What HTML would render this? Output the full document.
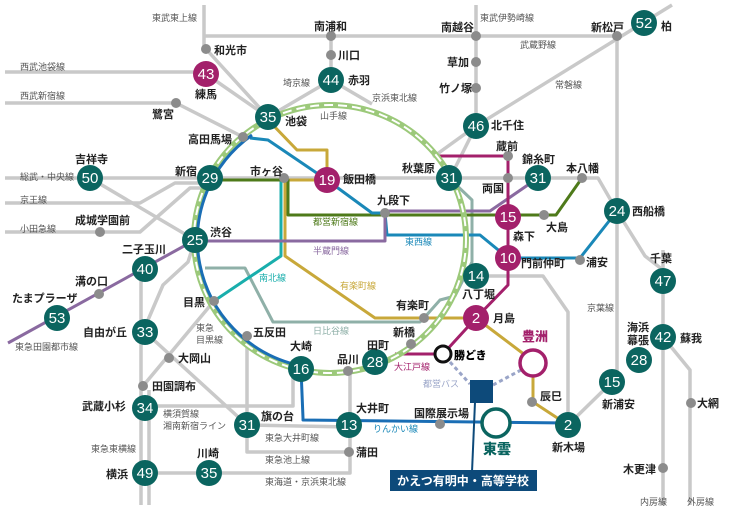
<!DOCTYPE html>
<html><head><meta charset="utf-8"><style>
html,body{margin:0;padding:0;background:#fff;}
svg{display:block;font-family:"Liberation Sans","Noto Sans CJK JP",sans-serif;}
.s{font-size:11px;font-weight:600;fill:#222;}
.l{font-size:9px;fill:#555;}
.n{font-size:15px;fill:#fff;font-family:"Liberation Sans Narrow","Liberation Sans",sans-serif;text-anchor:middle;}
.g{fill:#8c8c8c;}
.t{fill:#0b6560;}
.m{fill:#a3206b;}
</style></head><body>
<svg width="730" height="513" viewBox="0 0 730 513" xmlns="http://www.w3.org/2000/svg">
<!-- grey lines -->
<g fill="none" stroke="#c9c9c9" stroke-width="3.5" stroke-linejoin="round">
<polyline points="204,5 204,49"/>
<polyline points="204,36 617,36"/>
<polyline points="476,126 672,5"/>
<polyline points="617,36 617,382"/>
<polyline points="476,5 476,126"/>
<polyline points="331,36 331,80 268,117"/>
<polyline points="331,80 372,104"/>
<polyline points="476,126 433,157"/>
<polyline points="476,126 455,168"/>
<polyline points="5,178 598,178 617,211 645,256 663,270"/>
<polyline points="663,250 663,505"/>
<polyline points="663,337 690,370 690,505"/>
<polyline points="5,72 206,72"/>
<polyline points="206,49 268,117"/>
<polyline points="206,74 268,117"/>
<polyline points="5,103 176,103 243,137"/>
<polyline points="5,203 140,203 175,183 207,183"/>
<polyline points="5,232 140,232 190,188 207,188"/>
<polyline points="90,178 195,240"/>
<polyline points="141,269 141,505"/>
<polyline points="149,390 149,505"/>
<polyline points="195,240 188,262 163,285 148,320"/>
<polyline points="214,301 143,386"/>
<polyline points="145,332 247,425 349,427"/>
<polyline points="247,336 247,452 349,452"/>
<polyline points="145,473 350,473 350,371"/>
<polyline points="145,406 293,406 293,370"/>
<polyline points="476,276 543,276 568,312 568,425 612,382"/>
</g>
<!-- colored lines -->
<g fill="none" stroke-width="3" stroke-linejoin="round">
<polyline stroke="#8fb0a8" points="449,178 472,200 472,262 455,296 440,300 424,318 420,322 273,322 245,268 205,268"/>
<polyline stroke="#19aeac" points="214,301 281,256 281,180"/>
<polyline stroke="#c8a83a" points="270,122 297,150 327,150 327,180 285,180 285,256 375,318 476,318 525,355"/>
<polyline stroke="#c8a83a" points="533,376 533,402 568,425"/>
<polyline stroke="#4e7a1a" points="210,180 288,180 288,215 544,215 556,215 582,178"/>
<polyline stroke="#1a88b8" points="250,138 268,140 327,180 372,213 385,213 387,235 480,235 508,258 580,258 617,211"/>
<polyline stroke="#8a6aa0" points="195,241 385,241 385,211 490,211 538,178"/>
<polyline stroke="#8a6aa0" points="8,343 195,240"/>
<polyline stroke="#a3206b" points="437,156 508,156 508,285 476,318 443,354 395,354"/>
<polyline stroke="#1a6eb5" points="301,369 303,418 303,420 568,423"/>
</g>
<!-- yamanote -->
<ellipse cx="330" cy="239" rx="136" ry="134" fill="none" stroke="#9cc97a" stroke-width="6"/>
<ellipse cx="330" cy="239" rx="136" ry="134" fill="none" stroke="#fff" stroke-width="2" stroke-dasharray="9 5"/>
<path d="M252,135 A131,129 0 0 0 297,365" fill="none" stroke="#1a6eb5" stroke-width="3"/>
<!-- bus -->
<g stroke="#9aa5c8" stroke-width="3" stroke-dasharray="4 3" fill="none">
<line x1="450" y1="362" x2="470" y2="384"/><line x1="493" y1="385" x2="521" y2="370"/></g>
<line x1="475" y1="402" x2="472" y2="472" stroke="#0d4a7a" stroke-width="2"/>
<rect x="470" y="380" width="23" height="23" fill="#0d4a7a"/>
<rect x="390" y="470" width="147" height="21" fill="#0d4a7a"/>
<text x="463" y="485" text-anchor="middle" style="font-size:12px;font-weight:700;fill:#fff">かえつ有明中・高等学校</text>
<!-- grey nodes -->
<g class="g">
<circle cx="206" cy="49" r="5"/><circle cx="176" cy="103" r="5"/><circle cx="243" cy="137" r="5"/>
<circle cx="331" cy="36" r="5"/><circle cx="331" cy="55" r="5"/><circle cx="476" cy="36" r="5"/>
<circle cx="476" cy="62" r="5"/><circle cx="476" cy="88" r="5"/><circle cx="617" cy="36" r="5"/>
<circle cx="508" cy="156" r="5"/><circle cx="508" cy="178" r="5"/><circle cx="582" cy="178" r="5"/>
<circle cx="544" cy="215" r="5"/><circle cx="284" cy="178" r="5"/><circle cx="385" cy="213" r="5"/>
<circle cx="100" cy="232" r="5"/><circle cx="99" cy="294" r="5"/><circle cx="214" cy="301" r="5"/>
<circle cx="247" cy="336" r="5"/><circle cx="169" cy="358" r="5"/><circle cx="143" cy="386" r="5"/>
<circle cx="348" cy="371" r="5"/><circle cx="349" cy="452" r="5"/><circle cx="411" cy="344" r="5"/>
<circle cx="424" cy="318" r="5"/><circle cx="580" cy="260" r="5"/><circle cx="532" cy="402" r="5"/>
<circle cx="440" cy="424" r="5"/><circle cx="691" cy="403" r="5"/><circle cx="663" cy="468" r="5"/>
</g>
<!-- rings -->
<circle cx="443" cy="354" r="8" fill="#fff" stroke="#111" stroke-width="3"/>
<circle cx="533" cy="363" r="13" fill="#fff" stroke="#a3206b" stroke-width="3.5"/>
<circle cx="496" cy="423" r="14" fill="#fff" stroke="#0b6560" stroke-width="3.5"/>
<!-- teal nodes -->
<g class="t">
<circle cx="331" cy="80" r="13"/><circle cx="268" cy="117" r="13"/><circle cx="210" cy="178" r="13"/>
<circle cx="90" cy="178" r="13"/><circle cx="195" cy="240" r="13"/><circle cx="145" cy="269" r="13"/>
<circle cx="57" cy="318" r="13"/><circle cx="145" cy="332" r="13"/><circle cx="145" cy="408" r="13"/>
<circle cx="145" cy="473" r="13"/><circle cx="209" cy="473" r="13"/><circle cx="247" cy="425" r="13"/>
<circle cx="301" cy="369" r="13"/><circle cx="349" cy="425" r="13"/><circle cx="375" cy="362" r="13"/>
<circle cx="449" cy="178" r="13"/><circle cx="538" cy="178" r="13"/><circle cx="476" cy="126" r="13"/>
<circle cx="644" cy="23" r="13"/><circle cx="617" cy="211" r="13"/><circle cx="476" cy="276" r="13"/>
<circle cx="663" cy="281" r="13"/><circle cx="663" cy="337" r="13"/><circle cx="639" cy="360" r="13"/>
<circle cx="612" cy="382" r="13"/><circle cx="568" cy="425" r="13"/>
</g>
<g class="m">
<circle cx="206" cy="74" r="13"/><circle cx="327" cy="180" r="13"/><circle cx="508" cy="217" r="13"/>
<circle cx="508" cy="258" r="13"/><circle cx="476" cy="318" r="13"/>
</g>
<g class="n">
<text x="331" y="85">44</text><text x="268" y="122">35</text><text x="210" y="183">29</text>
<text x="90" y="183">50</text><text x="195" y="245">25</text><text x="145" y="274">40</text>
<text x="57" y="323">53</text><text x="145" y="337">33</text><text x="145" y="413">34</text>
<text x="145" y="478">49</text><text x="209" y="478">35</text><text x="247" y="430">31</text>
<text x="301" y="374">16</text><text x="349" y="430">13</text><text x="375" y="367">28</text>
<text x="449" y="183">31</text><text x="538" y="183">31</text><text x="476" y="131">46</text>
<text x="644" y="28">52</text><text x="617" y="216">24</text><text x="476" y="281">14</text>
<text x="663" y="286">47</text><text x="663" y="342">42</text><text x="639" y="365">28</text>
<text x="612" y="387">15</text><text x="568" y="430">2</text>
<text x="206" y="79">43</text><text x="327" y="185">19</text><text x="508" y="222">15</text>
<text x="508" y="263">10</text><text x="476" y="323">2</text>
</g>
<!-- line labels -->
<g class="l">
<text x="152" y="21">東武東上線</text><text x="20" y="70">西武池袋線</text><text x="20" y="99">西武新宿線</text>
<text x="283" y="86">埼京線</text><text x="320" y="119">山手線</text><text x="20" y="180">総武・中央線</text>
<text x="20" y="203">京王線</text><text x="20" y="232">小田急線</text>
<text x="313" y="225" style="fill:#4e7a1a">都営新宿線</text><text x="313" y="254" style="fill:#8a6aa0">半蔵門線</text>
<text x="480" y="21">東武伊勢崎線</text><text x="520" y="48">武蔵野線</text><text x="555" y="88">常磐線</text>
<text x="372" y="101">京浜東北線</text><text x="405" y="245" style="fill:#1a88b8">東西線</text>
<text x="259" y="281" style="fill:#19aeac">南北線</text><text x="340" y="289" style="fill:#c8a83a">有楽町線</text>
<text x="196" y="331">東急</text><text x="196" y="343">目黒線</text><text x="313" y="334" style="fill:#8fb0a8">日比谷線</text>
<text x="15" y="350">東急田園都市線</text><text x="163" y="417">横須賀線</text><text x="163" y="429">湘南新宿ライン</text>
<text x="265" y="441">東急大井町線</text><text x="91" y="452">東急東横線</text><text x="265" y="463">東急池上線</text>
<text x="265" y="485">東海道・京浜東北線</text><text x="587" y="311">京葉線</text>
<text x="394" y="370" style="fill:#a3206b">大江戸線</text><text x="423" y="387" style="fill:#9aa5c8">都営バス</text>
<text x="373" y="432" style="fill:#1a88b8">りんかい線</text>
<text x="640" y="505">内房線</text><text x="687" y="505">外房線</text>
</g>
<!-- station labels -->
<g class="s">
<text x="214" y="54">和光市</text><text x="314" y="30">南浦和</text><text x="195" y="98">練馬</text>
<text x="338" y="59">川口</text><text x="348" y="84">赤羽</text><text x="152" y="118">鷺宮</text>
<text x="285" y="125">池袋</text><text x="188" y="143">高田馬場</text><text x="75" y="163">吉祥寺</text>
<text x="175" y="175">新宿</text><text x="250" y="175">市ヶ谷</text><text x="343" y="183">飯田橋</text>
<text x="75" y="224">成城学園前</text><text x="210" y="236">渋谷</text><text x="122" y="253">二子玉川</text>
<text x="441" y="31">南越谷</text><text x="591" y="31">新松戸</text><text x="661" y="30">柏</text>
<text x="447" y="66">草加</text><text x="439" y="92">竹ノ塚</text><text x="491" y="129">北千住</text>
<text x="496" y="150">蔵前</text><text x="522" y="163">錦糸町</text><text x="402" y="172">秋葉原</text>
<text x="566" y="172">本八幡</text><text x="482" y="192">両国</text><text x="377" y="204">九段下</text>
<text x="632" y="215">西船橋</text><text x="546" y="231">大島</text><text x="513" y="240">森下</text>
<text x="75" y="285">溝の口</text><text x="12" y="302">たまプラーザ</text><text x="183" y="306">目黒</text>
<text x="253" y="336">五反田</text><text x="83" y="336">自由が丘</text><text x="290" y="350">大崎</text>
<text x="337" y="363">品川</text><text x="178" y="362">大岡山</text><text x="152" y="390">田園調布</text>
<text x="82" y="410">武蔵小杉</text><text x="356" y="412">大井町</text><text x="261" y="420">旗の台</text>
<text x="197" y="457">川崎</text><text x="356" y="456">蒲田</text><text x="106" y="478">横浜</text>
<text x="521" y="267">門前仲町</text><text x="586" y="266">浦安</text><text x="462" y="298">八丁堀</text>
<text x="396" y="309">有楽町</text><text x="493" y="322">月島</text><text x="393" y="336">新橋</text>
<text x="367" y="349">田町</text><text x="627" y="331">海浜</text><text x="627" y="344">幕張</text>
<text x="650" y="262">千葉</text><text x="680" y="342">蘇我</text><text x="454" y="359" style="font-weight:800;fill:#000">勝どき</text>
<text x="540" y="400">辰巳</text><text x="697" y="407">大網</text><text x="414" y="417">国際展示場</text>
<text x="602" y="408">新浦安</text><text x="552" y="451">新木場</text><text x="623" y="473">木更津</text>
<text x="522" y="341" style="font-size:13px;font-weight:800;fill:#a3206b">豊洲</text>
<text x="483" y="454" style="font-size:14px;font-weight:800;fill:#0b6560">東雲</text>
</g>
</svg>
</body></html>
